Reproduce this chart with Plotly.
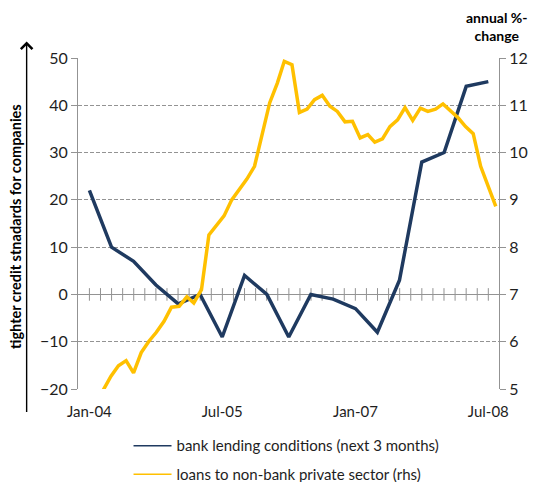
import pandas as pd
import plotly.graph_objects as go

# Bank lending survey: expected change in credit standards, quarterly (lhs)
lending_dates = pd.date_range("2004-01-01", "2008-07-01", freq="QS")
lending_values = [22, 10, 7, 2, -2, 0, -9, 4, 0, -9, 0, -1, -3, -8, 3, 28, 30, 44, 45]

# Loans to non-bank private sector, annual % change, monthly (rhs)
loan_dates = pd.date_range("2004-03-01", "2008-07-01", freq="MS")
loan_values = [
    4.98, 5.27, 5.49, 5.60, 5.34, 5.77, 6.01, 6.20, 6.43, 6.73,
    6.75, 6.95, 6.82, 7.10, 8.26, 8.47, 8.66, 9.00, 9.21, 9.44, 9.71, 10.34,
    11.05, 11.47, 11.93, 11.86, 10.85, 10.92, 11.12, 11.21, 10.98, 10.87, 10.65, 10.66,
    10.31, 10.38, 10.22, 10.29, 10.55, 10.69, 10.95, 10.68, 10.94, 10.87, 10.92, 11.03,
    10.89, 10.73, 10.55, 10.40, 9.71, 9.28, 8.86,
]

tick_dates = ["2004-01-01", "2005-07-01", "2007-01-01", "2008-07-01"]
tick_labels = ["Jan-04", "Jul-05", "Jan-07", "Jul-08"]

lending_name = "bank lending conditions (next 3 months)"
loan_name = "loans to non-bank private sector (rhs)"

NAVY = "#1F3A60"
GOLD = "#FFC000"
GRID = "#939393"
TXT = "#1E1E1E"
FONT = "Lato"

fig = go.Figure()

# minor tick marks crossing the zero line
minor_ticks = pd.date_range(tick_dates[0], tick_dates[-1], periods=37)
fig.add_trace(go.Scatter(
    x=minor_ticks, y=[0] * len(minor_ticks), mode="markers",
    marker=dict(symbol="line-ns", size=9, line=dict(width=1, color=GRID)),
    hoverinfo="skip", showlegend=False,
))

fig.add_trace(go.Scatter(
    x=lending_dates, y=lending_values, mode="lines",
    line=dict(color=NAVY, width=3.5), showlegend=False, name=lending_name,
))
fig.add_trace(go.Scatter(
    x=loan_dates, y=loan_values, mode="lines", xaxis="x2", yaxis="y2",
    line=dict(color=GOLD, width=3.5), showlegend=False, name=loan_name,
))

# thin legend samples
fig.add_trace(go.Scatter(x=[None], y=[None], mode="lines", name=lending_name,
                         line=dict(color=NAVY, width=1.5), legendgroup="a"))
fig.add_trace(go.Scatter(x=[None], y=[None], mode="lines", name=loan_name,
                         line=dict(color=GOLD, width=1.5), legendgroup="b"))

fig.update_layout(
    width=534, height=482,
    margin=dict(l=78, r=35, t=58, b=93, autoexpand=False),
    paper_bgcolor="white", plot_bgcolor="white",
    font=dict(family=FONT, size=15, color=TXT),
    xaxis=dict(
        type="date", range=["2003-11-15", "2008-08-14"],
        tickvals=tick_dates, ticktext=tick_labels,
        showgrid=False, showline=False, zeroline=False,
        ticks="outside", ticklen=9, tickcolor="rgba(0,0,0,0)",
        tickfont=dict(size=15),
    ),
    xaxis2=dict(
        type="date", range=["2003-11-20", "2008-07-14"],
        overlaying="x", anchor="y2", visible=False,
    ),
    yaxis=dict(
        range=[-20, 50], dtick=10,
        showgrid=True, gridcolor=GRID, gridwidth=1, griddash="4px,2px",
        zeroline=True, zerolinecolor=GRID, zerolinewidth=1,
        showline=True, linecolor=GRID, linewidth=1,
        ticks="outside", ticklen=6, tickcolor=GRID,
        tickfont=dict(size=16),
    ),
    yaxis2=dict(
        range=[5, 12], dtick=1, overlaying="y", side="right", anchor="x2",
        showgrid=False, zeroline=False,
        showline=True, linecolor=GRID, linewidth=1,
        ticks="outside", ticklen=6, tickcolor=GRID,
        tickfont=dict(size=16),
    ),
    legend=dict(
        orientation="v", x=0.12, y=-0.122, xanchor="left", yanchor="top",
        font=dict(size=15), itemwidth=38, tracegroupgap=6,
        traceorder="grouped", bgcolor="rgba(0,0,0,0)",
    ),
    showlegend=True,
)

# left axis title with an upward arrow beside it
fig.add_annotation(
    text="<b>tighter credit stnadards for companies</b>",
    xref="paper", yref="paper", x=-0.147, y=0.49,
    textangle=-90, showarrow=False, font=dict(size=14.5, color="#000000"),
    xanchor="center", yanchor="middle",
)
fig.add_annotation(
    xref="paper", yref="paper", x=-0.122, y=1.05, text="",
    showarrow=True, ax=0, ay=372, arrowhead=4, arrowsize=1.6,
    arrowwidth=1.4, arrowcolor="#000000",
)

# right axis unit label
fig.add_annotation(
    text="<b>annual %-<br>change</b>",
    xref="paper", yref="paper", x=0.995, y=1.095,
    showarrow=False, font=dict(size=14, color="#000000"),
    xanchor="center", yanchor="middle", align="center",
)

fig.write_html("out.html")
